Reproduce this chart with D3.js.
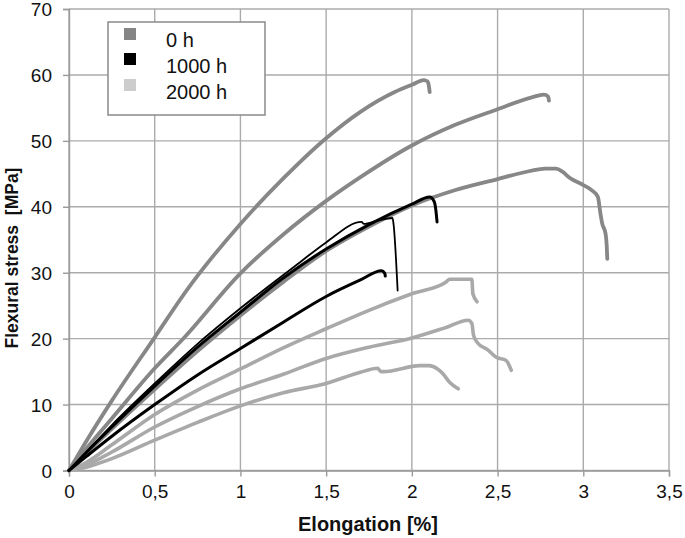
<!DOCTYPE html>
<html>
<head>
<meta charset="utf-8">
<script src="https://cdn.jsdelivr.net/npm/d3@7"></script>
<style>
  html, body { margin: 0; padding: 0; background: #fff; }
  svg { display: block; font-family: "Liberation Sans", Arial, sans-serif; }
</style>
</head>
<body>
<svg id="chart" width="685" height="538"></svg>
<script>
// ---- tick labels ----
const xTicks = [0, 0.5, 1, 1.5, 2, 2.5, 3, 3.5];
const xTickLabels = ["0", "0,5", "1", "1,5", "2", "2,5", "3", "3,5"];
const yTicks = [0, 10, 20, 30, 40, 50, 60, 70];

// ---- legend ----
const seriesNames = ["0 h", "1000 h", "2000 h"];

// ---- 0 h specimens (elongation %, stress MPa) ----
const h0_a = [[0,0],[0.1,4.4],[0.25,10.6],[0.5,20.2],[0.68,27.1],[1.0,37.4],[1.25,44.3],[1.5,50.4],[1.7,54.4],[1.9,57.4],[2.0,58.5],[2.07,59.2],[2.092,59.0],[2.1,58.2],[2.104,57.4]];
const h0_b = [[0,0],[0.1,3.3],[0.25,7.9],[0.5,15.5],[0.67,20.1],[1.0,29.9],[1.25,35.8],[1.5,40.9],[1.7,44.5],[2.0,49.3],[2.25,52.4],[2.5,54.8],[2.7,56.6],[2.77,57.0],[2.795,56.7],[2.8,56.1]];
const h0_c = [[0,0],[0.1,2.6],[0.25,6.3],[0.5,12.3],[0.75,18.1],[1.0,23.5],[1.25,28.6],[1.5,33.3],[1.75,37.0],[2.0,40.2],[2.25,42.5],[2.5,44.2],[2.65,45.2],[2.78,45.8],[2.84,45.8],[2.88,45.3],[2.92,44.4],[3.0,43.3],[3.05,42.5],[3.085,41.5],[3.1,39.0],[3.11,37.5],[3.13,35.9],[3.137,33.9],[3.14,32.1]];

// ---- 1000 h specimens ----
const h1000_d = [[0,0],[0.1,2.7],[0.25,6.6],[0.5,12.8],[0.75,18.7],[1.0,24.0],[1.25,29.2],[1.5,33.6],[1.75,37.3],[2.0,40.4],[2.104,41.5],[2.13,40.8],[2.14,39.5],[2.147,37.7]];
const h1000_e = [[0,0],[0.1,2.8],[0.25,6.9],[0.5,13.2],[0.75,19.2],[1.0,24.6],[1.348,31.6],[1.5,34.6],[1.707,37.7],[1.72,37.4],[1.8,37.9],[1.887,38.3],[1.893,37.4],[1.917,27.3]];
const h1000_f = [[0,0],[0.1,2.1],[0.25,5.2],[0.5,10.0],[0.75,14.5],[1.0,18.5],[1.25,22.5],[1.5,26.4],[1.7,28.9],[1.823,30.3],[1.842,29.9],[1.845,29.5]];

// ---- 2000 h specimens ----
const h2000_g = [[0,0],[0.1,1.2],[0.25,3.9],[0.5,8.5],[0.75,12.2],[1.0,15.4],[1.25,18.6],[1.5,21.5],[1.75,24.3],[2.0,26.8],[2.2,28.6],[2.22,29.0],[2.35,29.0],[2.356,26.8],[2.38,25.6]];
const h2000_h = [[0,0],[0.1,0.8],[0.25,2.8],[0.5,6.6],[0.75,9.7],[1.0,12.4],[1.25,14.6],[1.5,17.0],[1.75,18.7],[2.0,20.1],[2.2,21.7],[2.329,22.8],[2.35,22.3],[2.36,20.5],[2.385,19.3],[2.443,18.3],[2.49,17.2],[2.55,16.7],[2.58,15.2]];
const h2000_i = [[0,0],[0.1,0.5],[0.25,1.8],[0.5,4.6],[0.75,7.3],[1.0,9.8],[1.25,11.8],[1.5,13.2],[1.7,14.9],[1.8,15.5],[1.82,15.0],[1.834,15.0],[2.046,15.9],[2.1,15.9],[2.15,15.4],[2.18,14.7],[2.22,13.4],[2.27,12.4]];

const svg = d3.select("#chart");
const plot = {left: 69, right: 669, top: 9, bottom: 470.5};

const x = d3.scaleLinear().domain([0, 3.5]).range([plot.left, plot.right]);
const y = d3.scaleLinear().domain([0, 70]).range([plot.bottom, plot.top]);

const gridColor = "#ababab";

// grid
svg.append("g").selectAll("line").data(xTicks).join("line")
  .attr("x1", d => x(d)).attr("x2", d => x(d))
  .attr("y1", plot.top).attr("y2", plot.bottom)
  .attr("stroke", gridColor).attr("stroke-width", 1.4);
svg.append("g").selectAll("line").data(yTicks).join("line")
  .attr("x1", plot.left).attr("x2", plot.right)
  .attr("y1", d => y(d)).attr("y2", d => y(d))
  .attr("stroke", gridColor).attr("stroke-width", 1.4);

// axes
const xAxis = d3.axisBottom(x).tickValues(xTicks).tickFormat((d, i) => xTickLabels[i]).tickSize(6).tickPadding(8);
const yAxis = d3.axisLeft(y).tickValues(yTicks).tickSize(6).tickPadding(11);

const gx = svg.append("g").attr("transform", `translate(0,${plot.bottom})`).call(xAxis);
const gy = svg.append("g").attr("transform", `translate(${plot.left},0)`).call(yAxis);
[gx, gy].forEach(g => {
  g.select(".domain").attr("stroke", "#9a9a9a").attr("stroke-width", 1.4);
  g.selectAll(".tick line").attr("stroke", "#9a9a9a").attr("stroke-width", 1.4);
  g.selectAll(".tick text").attr("fill", "#111").style("font-size", "19px")
    .style("font-family", "'Liberation Sans', Arial, sans-serif");
});
gy.selectAll(".tick text").attr("dy", "0.35em");

// axis titles
svg.append("text")
  .attr("x", 368).attr("y", 531)
  .attr("text-anchor", "middle")
  .style("font-size", "20px").style("font-weight", "bold").attr("fill", "#111")
  .text("Elongation [%]");
svg.append("text")
  .attr("transform", "translate(18,258) rotate(-90)")
  .attr("text-anchor", "middle")
  .style("font-size", "17.5px").style("font-weight", "bold").attr("fill", "#111")
  .style("white-space", "pre")
  .text("Flexural stress  [MPa]");

// curves
const line = d3.line().x(d => x(d[0])).y(d => y(d[1])).curve(d3.curveMonotoneX);
const c0 = "#878787", c1 = "#000000", c2 = "#a9a9a9";
const curves = [
  {data: h2000_g, color: c2, w: 3.6},
  {data: h2000_h, color: c2, w: 3.6},
  {data: h2000_i, color: c2, w: 3.6},
  {data: h0_a, color: c0, w: 3.8},
  {data: h0_b, color: c0, w: 3.8},
  {data: h0_c, color: c0, w: 3.8},
  {data: h1000_e, color: c1, w: 1.8},
  {data: h1000_d, color: c1, w: 3.0},
  {data: h1000_f, color: c1, w: 3.0}
];
svg.append("g").selectAll("path").data(curves).join("path")
  .attr("d", d => line(d.data))
  .attr("fill", "none")
  .attr("stroke", d => d.color)
  .attr("stroke-width", d => d.w)
  .attr("stroke-linejoin", "round")
  .attr("stroke-linecap", "round");

// legend
const legendColors = ["#858585", "#000000", "#cdcdcd"];
const lg = svg.append("g");
lg.append("rect").attr("x", 108).attr("y", 22).attr("width", 157).attr("height", 93)
  .attr("fill", "#fff").attr("stroke", "#8a8a8a").attr("stroke-width", 1.5);
const sqY = [28, 53, 79];
const txtY = [46.5, 73, 99];
lg.selectAll("rect.sq").data(seriesNames).join("rect")
  .attr("class", "sq")
  .attr("x", 124).attr("y", (d, i) => sqY[i]).attr("width", 12).attr("height", 12)
  .attr("fill", (d, i) => legendColors[i]);
lg.selectAll("text").data(seriesNames).join("text")
  .attr("x", 166).attr("y", (d, i) => txtY[i])
  .style("font-size", "20px").attr("fill", "#111")
  .text(d => d);
</script>
</body>
</html>
